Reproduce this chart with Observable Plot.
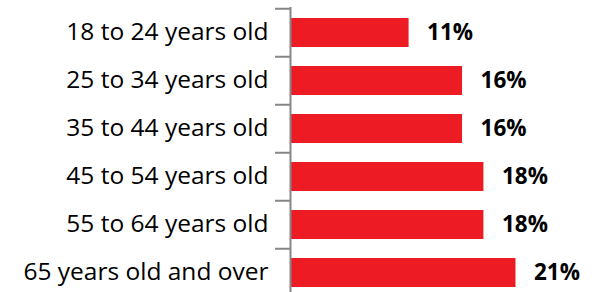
<!DOCTYPE html>
<html>
<head>
<meta charset="utf-8">
<script src="https://cdn.jsdelivr.net/npm/d3@7"></script>
<script src="https://cdn.jsdelivr.net/npm/@observablehq/plot@0.6"></script>
<style>
  html, body { margin: 0; padding: 0; background: #fff; }
  #chart { width: 603px; height: 292px; overflow: hidden; }
  #chart svg { display: block; }
</style>
</head>
<body>
<div id="chart"></div>
<script>
const categories = [
  "18 to 24 years old",
  "25 to 34 years old",
  "35 to 44 years old",
  "45 to 54 years old",
  "55 to 64 years old",
  "65 years old and over"
];
const values = [11, 16, 16, 18, 18, 21];
const valueLabels = ["11%", "16%", "16%", "18%", "18%", "21%"];

const data = categories.map((c, i) => ({category: c, value: values[i], label: valueLabels[i]}));

const W = 603, H = 298, marginTopPx = 7;
const step = (H - marginTopPx) / categories.length;
const font = "'Open Sans', sans-serif";

const chart = Plot.plot({
  width: W,
  height: H,
  marginTop: marginTopPx,
  marginBottom: 0,
  marginLeft: 291,
  marginRight: 2,
  style: {fontFamily: font, background: "#fff"},
  x: {domain: [0, 29], axis: null},
  y: {domain: categories, paddingInner: 0.4, paddingOuter: 0.2, label: null},
  marks: [
    Plot.barX(data, {x: "value", y: "category", fill: "#ED1C24"}),
    Plot.ruleX([0], {stroke: "#868686", strokeWidth: 2, dx: -1}),
    Plot.axisY({tickSize: 15, tickFormat: () => "", stroke: "#868686", strokeWidth: 2, dy: -step / 2, dx: -1}),
    Plot.axisY({tickSize: 0, tickPadding: 23, fontSize: 24.5, fill: "#000", label: null, dy: -0.5}),
    Plot.text(data, {x: "value", y: "category", text: "label", dx: 18, textAnchor: "start",
      fontSize: 22.5, fontWeight: "bold", fill: "#000"})
  ]
});
document.getElementById("chart").appendChild(chart);
</script>
</body>
</html>
